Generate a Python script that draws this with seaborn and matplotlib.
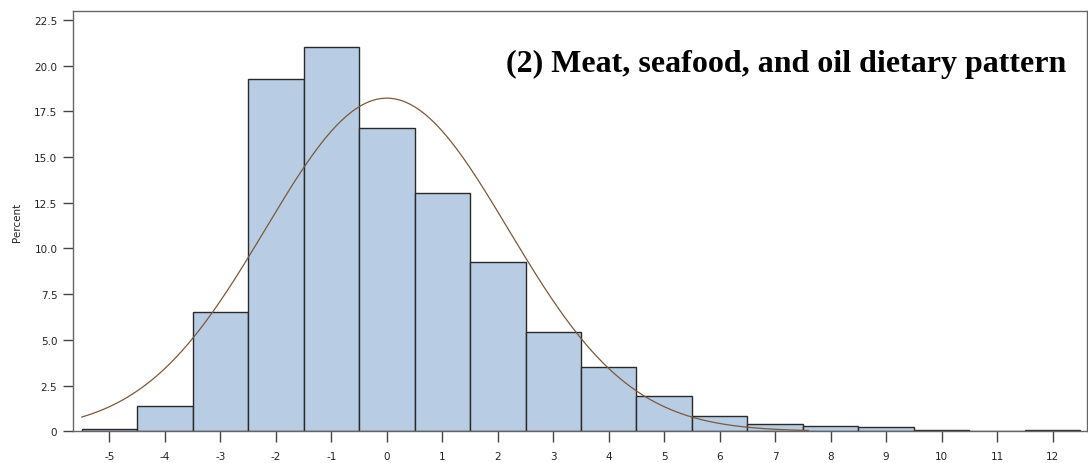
import numpy as np
import pandas as pd
import matplotlib
matplotlib.use("Agg")
import matplotlib.pyplot as plt
from matplotlib.ticker import FuncFormatter
import seaborn as sns

# ── DATA ──────────────────────────────────────────────────────────────────────

bin_centers = [-5, -4, -3, -2, -1, 0, 1, 2, 3, 4, 5, 6, 7, 8, 9, 10, 11, 12]
percent     = [0.15, 1.4, 6.54, 19.28, 21.0, 16.58, 13.04, 9.27, 5.45, 3.5,
               1.92, 0.86, 0.4, 0.29, 0.23, 0.06, 0.0, 0.06]

# fitted normal overlay (mean, sd of the score)
fit_mean = 0.0
fit_sd   = 2.19
curve_from, curve_to = -5.5, 7.6

title = "(2) Meat, seafood, and oil dietary pattern"

# ── PLOT ──────────────────────────────────────────────────────────────────────

sns.set_style("white")
plt.rcParams['font.family'] = ['DejaVu Sans']
plt.rcParams['axes.unicode_minus'] = False

fig = plt.figure(figsize=(10.88, 4.64), dpi=100)
ax = fig.add_axes([0.0674, 0.0683, 0.9317, 0.9065])

df = pd.DataFrame({"score": bin_centers, "pct": percent})
sns.histplot(data=df, x="score", weights="pct", binwidth=1.0,
             binrange=(min(bin_centers) - 0.5, max(bin_centers) + 0.5), stat="count",
             color="#b8cce4", edgecolor="#2a2a2a", linewidth=1.0, alpha=1.0, ax=ax)

xs = np.linspace(curve_from, curve_to, 300)
ys = 100.0 / (fit_sd * np.sqrt(2 * np.pi)) * np.exp(-0.5 * ((xs - fit_mean) / fit_sd) ** 2)
sns.lineplot(x=xs, y=ys, color="#7a5a3a", linewidth=0.9, ax=ax)

ax.set_xlim(-5.65, 12.62)
ax.set_ylim(0, 23)
ax.set_xticks(bin_centers)
ax.set_yticks(np.arange(0, 22.6, 2.5))
ax.yaxis.set_major_formatter(FuncFormatter(lambda v, p: "0" if v == 0 else f"{v:.1f}"))

ax.tick_params(axis="both", bottom=True, left=True, direction="out", width=1.0,
               color="#444444", labelsize=7.5, labelcolor="#222222")
ax.tick_params(axis="x", length=8, pad=6)
ax.tick_params(axis="y", length=7.5, pad=4)
for side in ["left", "right", "top", "bottom"]:
    ax.spines[side].set_color("#666666")
    ax.spines[side].set_linewidth(1.0)

ax.set_xlabel("")
ax.set_ylabel("Percent", fontsize=7.5, color="#222222", labelpad=9)

ax.text(0.98, 0.875, title, transform=ax.transAxes, ha="right", va="center",
        fontsize=23, fontweight="bold", family="Liberation Serif", color="black")

fig.savefig("out.png", dpi=100)
